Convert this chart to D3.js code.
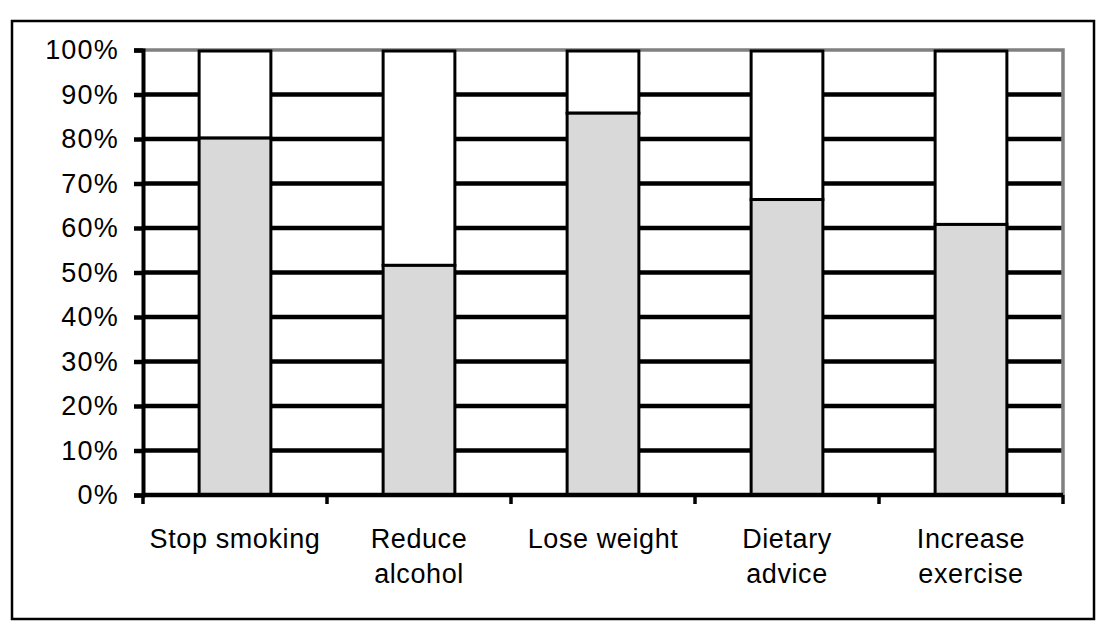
<!DOCTYPE html>
<html>
<head>
<meta charset="utf-8">
<script src="https://cdn.jsdelivr.net/npm/d3@7"></script>
<style>
  body { margin: 0; background: #fff; }
  text { font-family: "Liberation Sans", Arial, sans-serif; fill: #000; }
</style>
</head>
<body>
<div id="chart"></div>
<script>
// data
var categories = [["Stop smoking"], ["Reduce", "alcohol"], ["Lose weight"], ["Dietary", "advice"], ["Increase", "exercise"]];
var yesValues = [80.2, 51.6, 85.8, 66.4, 60.8];
var yTicks = [0, 10, 20, 30, 40, 50, 60, 70, 80, 90, 100];

var svgWidth = 1107;
var svgHeight = 639;

var margin = { top: 50, right: 44, bottom: 144, left: 143 };
var width = 1063 - margin.left;
var height = 495 - margin.top;

var svg = d3.select("#chart")
  .append("svg")
  .attr("width", svgWidth)
  .attr("height", svgHeight);

// outer frame
svg.append("rect")
  .attr("x", 12)
  .attr("y", 21)
  .attr("width", 1082)
  .attr("height", 598)
  .attr("fill", "none")
  .attr("stroke", "#000")
  .attr("stroke-width", 2.5);

var chartGroup = svg.append("g")
  .attr("transform", `translate(${margin.left}, ${margin.top})`);

var keys = categories.map(d => d.join(" "));

var xScale = d3.scaleBand()
  .domain(keys)
  .range([0, width]);

var yScale = d3.scaleLinear()
  .domain([0, 100])
  .range([height, 0]);

// gridlines
chartGroup.append("g")
  .selectAll("line")
  .data(yTicks.filter(t => t > 0 && t < 100))
  .enter()
  .append("line")
  .attr("x1", 0)
  .attr("x2", width)
  .attr("y1", d => yScale(d))
  .attr("y2", d => yScale(d))
  .attr("stroke", "#000")
  .attr("stroke-width", 4.5);

// plot area border (top and right, grey)
chartGroup.append("path")
  .attr("d", `M0,${yScale(100)}H${width}V${yScale(0)}`)
  .attr("fill", "none")
  .attr("stroke", "#808080")
  .attr("stroke-width", 3.5);

// bars
var barW = xScale.bandwidth() * 0.39;
var bars = chartGroup.append("g")
  .selectAll("g")
  .data(yesValues)
  .enter()
  .append("g");

bars.append("rect")
  .attr("x", (d, i) => xScale(keys[i]) + (xScale.bandwidth() - barW) / 2)
  .attr("y", yScale(100) + 1)
  .attr("width", barW)
  .attr("height", d => yScale(d) - yScale(100) - 1)
  .attr("fill", "#fff")
  .attr("stroke", "#000")
  .attr("stroke-width", 3);

bars.append("rect")
  .attr("x", (d, i) => xScale(keys[i]) + (xScale.bandwidth() - barW) / 2)
  .attr("y", d => yScale(d))
  .attr("width", barW)
  .attr("height", d => yScale(0) - yScale(d))
  .attr("fill", "#d9d9d9")
  .attr("stroke", "#000")
  .attr("stroke-width", 3);

// y axis
var leftAxis = d3.axisLeft(yScale)
  .tickValues(yTicks)
  .tickSize(9)
  .tickPadding(15)
  .tickFormat(d => d + "%");

var yAxis = chartGroup.append("g").call(leftAxis);
yAxis.select(".domain")
  .attr("stroke", "#000")
  .attr("stroke-width", 4);
yAxis.selectAll(".tick line")
  .attr("stroke", "#000")
  .attr("stroke-width", 4.5);
yAxis.selectAll(".tick text")
  .style("font-size", "27px")
  .style("letter-spacing", "1.2px")
  .attr("font-family", null);

// x axis
var bottomAxis = chartGroup.append("g")
  .attr("transform", `translate(0, ${height})`);

bottomAxis.append("line")
  .attr("x1", 0)
  .attr("x2", width)
  .attr("stroke", "#000")
  .attr("stroke-width", 4.5);

bottomAxis.selectAll(".xtick")
  .data(keys.concat(["end"]))
  .enter()
  .append("line")
  .attr("class", "xtick")
  .attr("x1", (d, i) => i < keys.length ? xScale(d) : width)
  .attr("x2", (d, i) => i < keys.length ? xScale(d) : width)
  .attr("y1", 0)
  .attr("y2", 9)
  .attr("stroke", "#000")
  .attr("stroke-width", 3.5);

var labels = bottomAxis.selectAll(".xlabel")
  .data(categories)
  .enter()
  .append("text")
  .attr("class", "xlabel")
  .attr("text-anchor", "middle")
  .style("font-size", "27px")
  .style("letter-spacing", "0.6px")
  .attr("transform", (d, i) => `translate(${xScale(keys[i]) + xScale.bandwidth() / 2}, 53)`);

labels.selectAll("tspan")
  .data(d => d)
  .enter()
  .append("tspan")
  .attr("x", 0)
  .attr("y", (d, i) => i * 35)
  .text(d => d);
</script>
</body>
</html>
